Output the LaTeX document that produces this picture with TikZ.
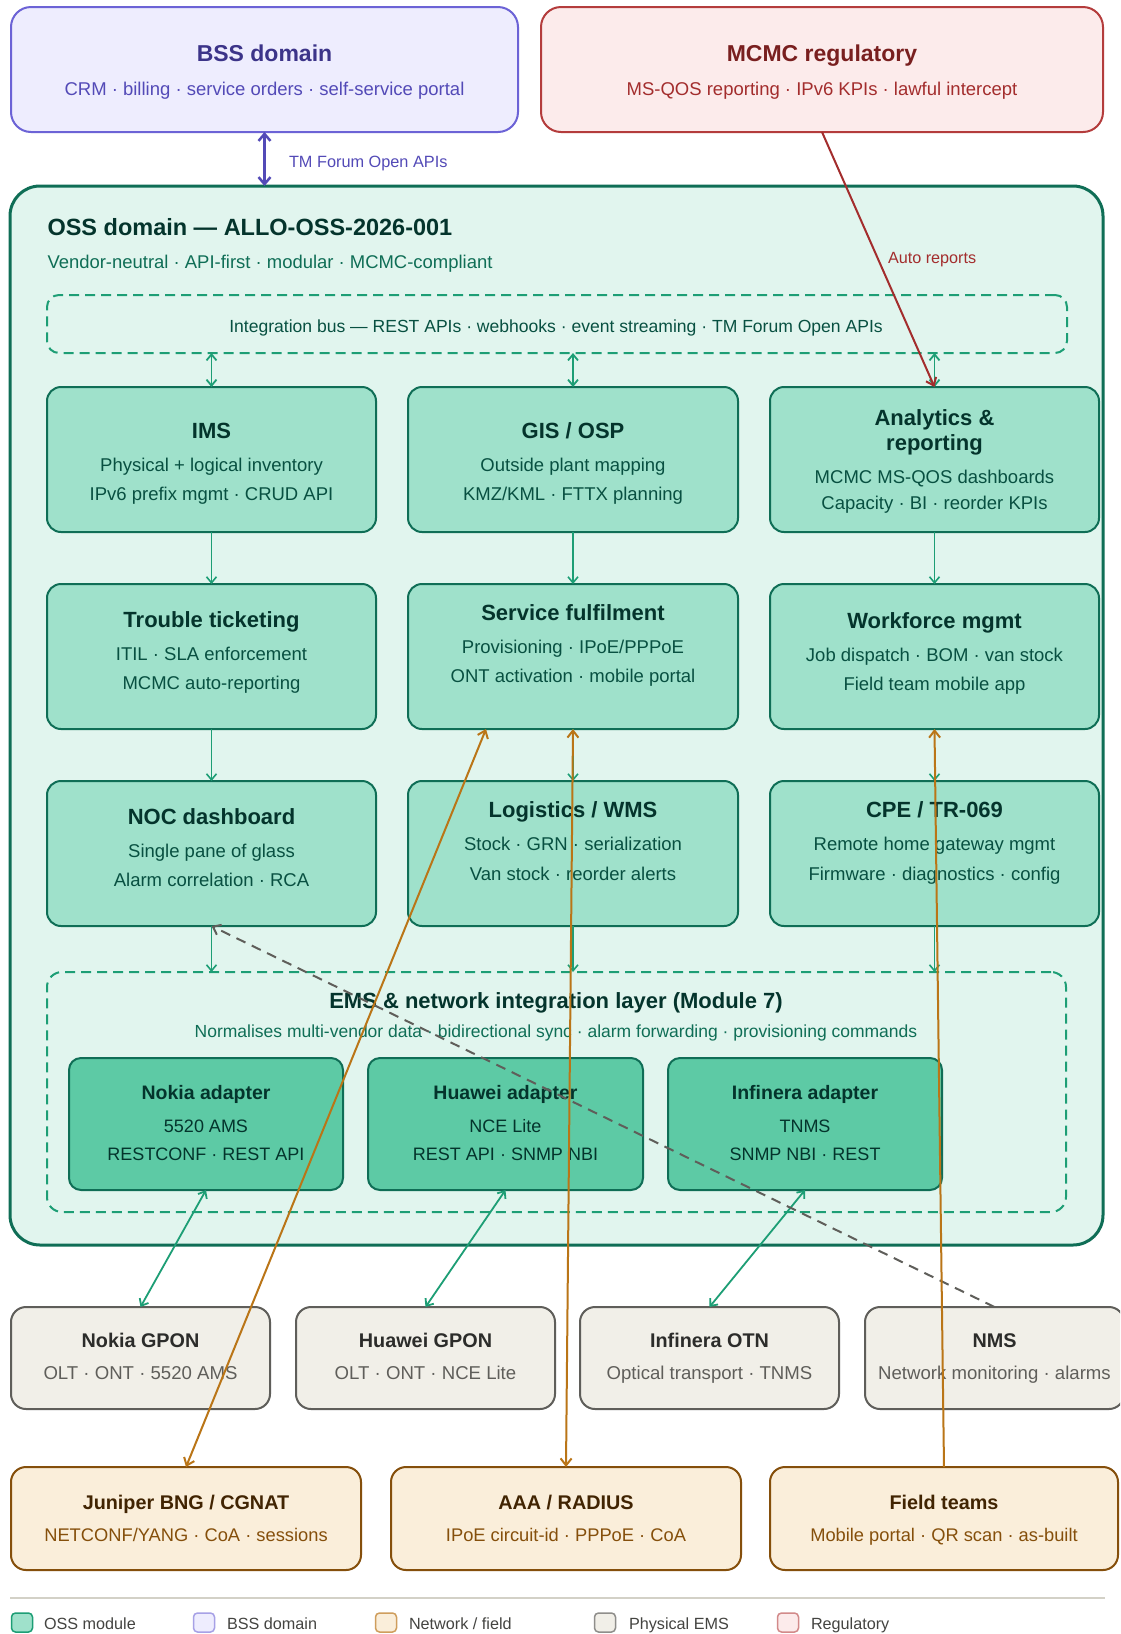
\documentclass[tikz,border=0pt]{standalone}
\usepackage{fontspec}
\setmainfont{Liberation Sans}
\usetikzlibrary{arrows.meta}
\definecolor{bssFill}{HTML}{EEEDFE}
\definecolor{bssLine}{HTML}{6C63D6}
\definecolor{bssTitle}{HTML}{3C3489}
\definecolor{bssText}{HTML}{534AB7}
\definecolor{regFill}{HTML}{FCEBEB}
\definecolor{regLine}{HTML}{B43C3C}
\definecolor{regTitle}{HTML}{791F1F}
\definecolor{regText}{HTML}{A32D2D}
\definecolor{ossFill}{HTML}{E1F5EE}
\definecolor{ossLine}{HTML}{0F6E56}
\definecolor{ossTitle}{HTML}{04342C}
\definecolor{ossSub}{HTML}{0F6E56}
\definecolor{dashGreen}{HTML}{1D9E75}
\definecolor{modFill}{HTML}{9FE1CB}
\definecolor{modText}{HTML}{085041}
\definecolor{adFill}{HTML}{5DCAA5}
\definecolor{phyFill}{HTML}{F1EFE8}
\definecolor{phyLine}{HTML}{5F5E5A}
\definecolor{phyTitle}{HTML}{2C2C2A}
\definecolor{netFill}{HTML}{FAEEDA}
\definecolor{netLine}{HTML}{854F0B}
\definecolor{netTitle}{HTML}{412402}
\definecolor{orangeLn}{HTML}{BA7517}
\definecolor{legLine}{HTML}{D3D1C7}
\definecolor{legText}{HTML}{444441}
\newcommand\setfs[1]{\fontsize{#1}{#1}\selectfont}
\begin{document}
\begin{tikzpicture}[x=1pt,y=-1pt,
  every node/.style={inner sep=0pt,outer sep=0pt},
  txt/.style={anchor=mid,align=center,yshift=-3pt},
  lbl/.style={anchor=mid west,yshift=-3pt},
  modbox/.style={draw=ossLine,fill=modFill,line width=2pt,rounded corners=14pt,minimum height=145pt},
  adbox/.style={draw=ossLine,fill=adFill,line width=2pt,rounded corners=12pt,minimum height=132pt},
  phybox/.style={draw=phyLine,fill=phyFill,line width=2pt,rounded corners=15pt,minimum height=102pt},
  netbox/.style={draw=netLine,fill=netFill,line width=2pt,rounded corners=15pt,minimum height=103pt},
  mtitle/.style={txt,font=\setfs{22}\bfseries,text=ossTitle},
  mbody/.style={txt,font=\setfs{18.5},text=modText},
  atitle/.style={txt,font=\setfs{19.5}\bfseries,text=ossTitle},
  abody/.style={txt,font=\setfs{18},text=ossTitle},
  ptitle/.style={txt,font=\setfs{19.8}\bfseries,text=phyTitle},
  pbody/.style={txt,font=\setfs{18.6},text=phyLine},
  ntitle/.style={txt,font=\setfs{19.8}\bfseries,text=netTitle},
  nbody/.style={txt,font=\setfs{18.3},text=netLine},
  tip/.tip={Straight Barb[length=6pt,width=10pt]},
  garr/.style={draw=dashGreen,line width=1.6pt,-tip},
  gbarr/.style={draw=dashGreen,line width=1.8pt,tip-tip},
  oline/.style={draw=orangeLn,line width=2pt},
  legsw/.style={minimum width=21pt,minimum height=19pt,rounded corners=4pt,line width=1.5pt},
  legtx/.style={lbl,font=\setfs{16.2},text=legText}
]
\useasboundingbox (0,0) rectangle (1120,1634);
\clip (0,0) rectangle (1120,1634);
\fill[white] (0,0) rectangle (1120,1634);

% ---------- top domains
\node[draw=bssLine,fill=bssFill,line width=2pt,rounded corners=20pt,minimum width=507pt,minimum height=125pt] (bss) at (264.5,69.5) {};
\node[txt,font=\setfs{23}\bfseries,text=bssTitle] (bssT) at (264.5,56) {BSS domain};
\node[txt,font=\setfs{18.5},text=bssText] (bssS) at (264.5,90) {CRM · billing · service orders · self-service portal};

\node[draw=regLine,fill=regFill,line width=2pt,rounded corners=20pt,minimum width=562pt,minimum height=125pt] (mcmc) at (822,69.5) {};
\node[txt,font=\setfs{23}\bfseries,text=regTitle] (mcmcT) at (822,56) {MCMC regulatory};
\node[txt,font=\setfs{18.5},text=regText] (mcmcS) at (822,90) {MS-QOS reporting · IPv6 KPIs · lawful intercept};

% ---------- OSS container
\node[draw=ossLine,fill=ossFill,line width=3pt,rounded corners=30pt,minimum width=1093pt,minimum height=1059pt] (oss) at (556.5,715.5) {};
\node[lbl,font=\setfs{23.5}\bfseries,text=ossTitle] (ossT) at (47.5,230) {OSS domain — ALLO-OSS-2026-001};
\node[lbl,font=\setfs{18.45},text=ossSub] (ossS) at (47.5,263) {Vendor-neutral · API-first · modular · MCMC-compliant};

% integration bus
\node[draw=dashGreen,line width=2pt,dash pattern=on 10pt off 6pt,rounded corners=12pt,minimum width=1020pt,minimum height=58pt] (bus) at (557,324) {};
\node[txt,font=\setfs{17.55},text=modText] (busT) at (556,327) {Integration bus — REST APIs · webhooks · event streaming · TM Forum Open APIs};

% ---------- row 1
\node[modbox,minimum width=329pt] (ims) at (211.5,459.5) {};
\node[mtitle] (imsT) at (211.5,433) {IMS};
\node[mbody] (imsA) at (211.5,466) {Physical + logical inventory};
\node[mbody] (imsB) at (211.5,495) {IPv6 prefix mgmt · CRUD API};

\node[modbox,minimum width=330pt] (gis) at (573,459.5) {};
\node[mtitle] (gisT) at (573,433) {GIS / OSP};
\node[mbody] (gisA) at (573,466) {Outside plant mapping};
\node[mbody] (gisB) at (573,495) {KMZ/KML · FTTX planning};

\node[modbox,minimum width=329pt] (an) at (934.5,459.5) {};
\node[mtitle] (anT1) at (934.5,420) {Analytics \&};
\node[mtitle] (anT2) at (934.5,445) {reporting};
\node[mbody] (anA) at (934.5,478) {MCMC MS-QOS dashboards};
\node[mbody] (anB) at (934.5,504) {Capacity · BI · reorder KPIs};

% ---------- row 2
\node[modbox,minimum width=329pt] (tt) at (211.5,656.5) {};
\node[mtitle] (ttT) at (211.5,622) {Trouble ticketing};
\node[mbody] (ttA) at (211.5,655) {ITIL · SLA enforcement};
\node[mbody] (ttB) at (211.5,684) {MCMC auto-reporting};

\node[modbox,minimum width=330pt] (sf) at (573,656.5) {};
\node[mtitle] (sfT) at (573,615) {Service fulfilment};
\node[mbody] (sfA) at (573,648) {Provisioning · IPoE/PPPoE};
\node[mbody] (sfB) at (573,677) {ONT activation · mobile portal};

\node[modbox,minimum width=329pt] (wf) at (934.5,656.5) {};
\node[mtitle] (wfT) at (934.5,623) {Workforce mgmt};
\node[mbody] (wfA) at (934.5,656) {Job dispatch · BOM · van stock};
\node[mbody] (wfB) at (934.5,685) {Field team mobile app};

% ---------- row 3
\node[modbox,minimum width=329pt] (noc) at (211.5,853.5) {};
\node[mtitle] (nocT) at (211.5,819) {NOC dashboard};
\node[mbody] (nocA) at (211.5,852) {Single pane of glass};
\node[mbody] (nocB) at (211.5,881) {Alarm correlation · RCA};

\node[modbox,minimum width=330pt] (log) at (573,853.5) {};
\node[mtitle] (logT) at (573,812) {Logistics / WMS};
\node[mbody] (logA) at (573,845) {Stock · GRN · serialization};
\node[mbody] (logB) at (573,875) {Van stock · reorder alerts};

\node[modbox,minimum width=329pt] (cpe) at (934.5,853.5) {};
\node[mtitle] (cpeT) at (934.5,812) {CPE / TR-069};
\node[mbody] (cpeA) at (934.5,845) {Remote home gateway mgmt};
\node[mbody] (cpeB) at (934.5,875) {Firmware · diagnostics · config};

% ---------- EMS layer
\node[draw=dashGreen,line width=2pt,dash pattern=on 10pt off 6pt,rounded corners=15pt,minimum width=1019pt,minimum height=240pt] (ems) at (556.5,1092) {};
\node[txt,font=\setfs{22}\bfseries,text=ossTitle] (emsT) at (556,1003) {EMS \& network integration layer (Module 7)};
\node[txt,font=\setfs{17.5},text=ossSub] (emsS) at (556,1032) {Normalises multi-vendor data · bidirectional sync · alarm forwarding · provisioning commands};

\node[adbox,minimum width=274pt] (nad) at (206,1124) {};
\node[atitle] (nadT) at (206,1094) {Nokia adapter};
\node[abody] (nadA) at (206,1127) {5520 AMS};
\node[abody] (nadB) at (206,1155) {RESTCONF · REST API};

\node[adbox,minimum width=275pt] (had) at (505.5,1124) {};
\node[atitle] (hadT) at (505.5,1094) {Huawei adapter};
\node[abody] (hadA) at (505.5,1127) {NCE Lite};
\node[abody] (hadB) at (505.5,1155) {REST API · SNMP NBI};

\node[adbox,minimum width=274pt] (iad) at (805,1124) {};
\node[atitle] (iadT) at (805,1094) {Infinera adapter};
\node[abody] (iadA) at (805,1127) {TNMS};
\node[abody] (iadB) at (805,1155) {SNMP NBI · REST};

% ---------- physical EMS row
\node[phybox,minimum width=259pt] (ngp) at (140.5,1358) {};
\node[ptitle] (ngpT) at (140.5,1342) {Nokia GPON};
\node[pbody] (ngpA) at (140.5,1374) {OLT · ONT · 5520 AMS};

\node[phybox,minimum width=259pt] (hgp) at (425.5,1358) {};
\node[ptitle] (hgpT) at (425.5,1342) {Huawei GPON};
\node[pbody] (hgpA) at (425.5,1374) {OLT · ONT · NCE Lite};

\node[phybox,minimum width=259pt] (otn) at (709.5,1358) {};
\node[ptitle] (otnT) at (709.5,1342) {Infinera OTN};
\node[pbody] (otnA) at (709.5,1374) {Optical transport · TNMS};

\node[phybox,minimum width=259pt] (nms) at (994.5,1358) {};
\node[ptitle] (nmsT) at (994.5,1342) {NMS};
\node[pbody] (nmsA) at (994.5,1374) {Network monitoring · alarms};

% ---------- network / field row
\node[netbox,minimum width=350pt] (jun) at (186,1518.5) {};
\node[ntitle] (junT) at (186,1504) {Juniper BNG / CGNAT};
\node[nbody] (junA) at (186,1536) {NETCONF/YANG · CoA · sessions};

\node[netbox,minimum width=350pt] (aaa) at (566,1518.5) {};
\node[ntitle] (aaaT) at (566,1504) {AAA / RADIUS};
\node[nbody] (aaaA) at (566,1536) {IPoE circuit-id · PPPoE · CoA};

\node[netbox,minimum width=348pt] (fld) at (944,1518.5) {};
\node[ntitle] (fldT) at (944,1504) {Field teams};
\node[nbody] (fldA) at (944,1536) {Mobile portal · QR scan · as-built};

% ---------- connectors
\draw[draw=bssText,line width=2.5pt,{Straight Barb[length=7pt,width=12pt]}-{Straight Barb[length=7pt,width=12pt]}] (bss.south) -- (bss.south |- oss.north);
\node[lbl,font=\setfs{16.3},text=bssText] (bssL) at (289,162) {TM Forum Open APIs};

\draw[gbarr] (ims.north |- bus.south) -- (ims.north);
\draw[gbarr] (gis.north |- bus.south) -- (gis.north);
\draw[gbarr] (an.north |- bus.south) -- (an.north);

\draw[garr] (ims.south) -- (tt.north);
\draw[garr] (gis.south) -- (sf.north);
\draw[garr] (an.south) -- (wf.north);
\draw[garr] (tt.south) -- (noc.north);
\draw[garr] (sf.south) -- (log.north);
\draw[garr] (wf.south) -- (cpe.north);
\draw[garr] (noc.south) -- (noc.south |- ems.north);
\draw[garr] (log.south) -- (log.south |- ems.north);
\draw[garr] (cpe.south) -- (cpe.south |- ems.north);

\draw[gbarr] (nad.south) -- (ngp.north);
\draw[gbarr] (had.south) -- (hgp.north);
\draw[gbarr] (iad.south) -- (otn.north);

\draw[draw=regText,line width=2pt,-{Straight Barb[length=7pt,width=11pt]}] (mcmc.south) -- (an.north);
\node[lbl,font=\setfs{16.2},text=regText] (autoL) at (888,258) {Auto reports};

\draw[draw=phyLine,line width=2pt,dash pattern=on 10pt off 7pt,-{Straight Barb[length=7pt,width=11pt]}] (nms.north) -- (noc.south);

\draw[oline,{Straight Barb[length=7pt,width=11pt]}-{Straight Barb[length=7pt,width=11pt]}] ([xshift=-87pt]sf.south) -- (jun.north);
\draw[oline,{Straight Barb[length=7pt,width=11pt]}-{Straight Barb[length=7pt,width=11pt]}] (sf.south) -- (aaa.north);
\draw[oline,-{Straight Barb[length=7pt,width=11pt]}] (fld.north) -- (wf.south);

% ---------- legend
\draw[draw=legLine,line width=1.5pt] (10,1598) -- (1105,1598);
\node[legsw,draw=dashGreen,fill=modFill] (lg1) at (22,1622.5) {};
\node[legtx] (lg1t) at (44,1624) {OSS module};
\node[legsw,draw=bssLine!60,fill=bssFill] (lg2) at (204,1622.5) {};
\node[legtx] (lg2t) at (227,1624) {BSS domain};
\node[legsw,draw=orangeLn!70,fill=netFill] (lg3) at (386,1622.5) {};
\node[legtx] (lg3t) at (409,1624) {Network / field};
\node[legsw,draw=phyLine!70,fill=phyFill] (lg4) at (605,1622.5) {};
\node[legtx] (lg4t) at (629,1624) {Physical EMS};
\node[legsw,draw=regLine!60,fill=regFill] (lg5) at (788,1622.5) {};
\node[legtx] (lg5t) at (811,1624) {Regulatory};
\end{tikzpicture}
\end{document}
